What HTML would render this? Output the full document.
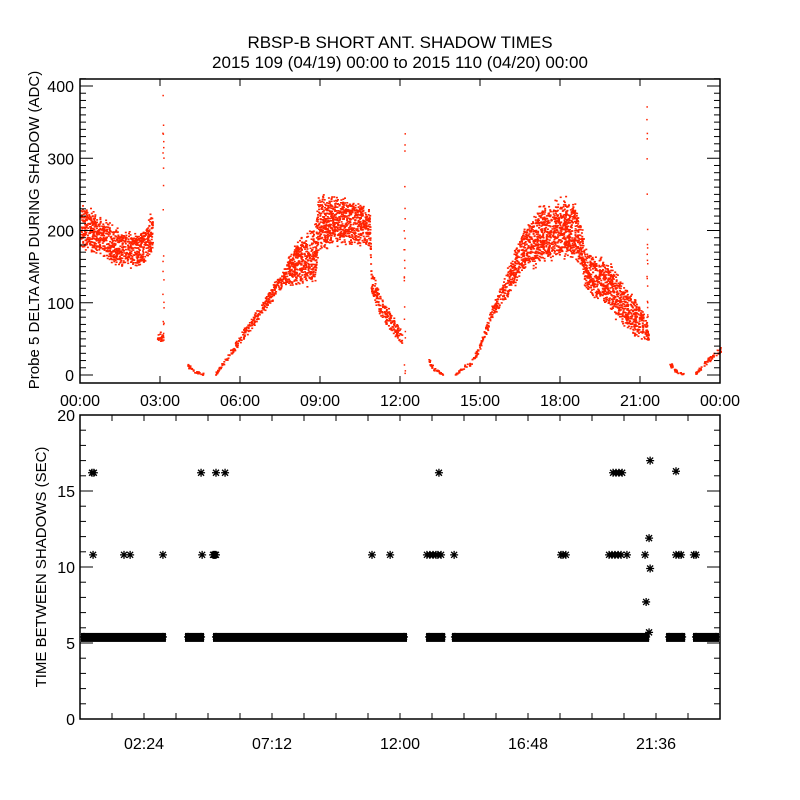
<!DOCTYPE html>
<html><head><meta charset="utf-8">
<style>
body{margin:0;background:#fff;}
svg{display:block;font-family:"Liberation Sans",sans-serif;}
</style></head>
<body>
<svg id="chart" width="800" height="800" viewBox="0 0 800 800">
<rect x="0" y="0" width="800" height="800" fill="#fff"/>
<text x="400" y="48" font-size="17" text-anchor="middle">RBSP-B SHORT ANT. SHADOW TIMES</text>
<text x="400" y="68" font-size="17" text-anchor="middle">2015 109 (04/19) 00:00 to 2015 110 (04/20) 00:00</text>
<g id="topPanel"></g>
<g id="botPanel"></g>
<text transform="translate(39,230) rotate(-90)" font-size="15" text-anchor="middle">Probe 5 DELTA AMP DURING SHADOW (ADC)</text>
<text transform="translate(46,567) rotate(-90)" font-size="15" text-anchor="middle">TIME BETWEEN SHADOWS (SEC)</text>
</svg>
<script>
// ---- data: top panel amplitude envelopes [hour, low, high] ----
const ampSeg1=[[0,170,245],[0.75,160,225],[1.5,145,205],[2.2,145,200],[2.5,155,215],[2.7,165,235]];
const ampSeg2=[[2.88,45,60],[3.1,45,62]];
const ampSeg3=[[4.0,10,18],[4.3,3,8],[4.6,0,4]];
const ampSeg4=[[5.05,0,4],[5.7,28,42],[6.4,62,82],[7.0,92,116],[7.6,120,152],[8.0,120,185],[8.8,120,215],[8.9,165,255],[9.5,175,255],[10.5,175,245],[10.85,170,235],[10.9,110,150],[11.3,75,110],[11.8,50,80],[12.05,40,60]];
const ampSeg5=[[13.05,15,25],[13.3,3,10],[13.6,0,4]];
const ampSeg6=[[14.05,0,3],[14.7,15,25],[15.0,35,50],[15.4,75,95],[16.0,105,150],[16.6,140,210],[17.25,150,240],[17.9,155,250],[18.5,155,250],[18.8,145,215],[18.9,115,180],[19.75,90,165],[20.5,55,125],[21.1,45,95],[21.3,45,65]];
const ampSeg7=[[22.05,15,25],[22.3,3,10],[22.6,0,4]];
const ampSeg8=[[23.05,0,5],[23.5,15,25],[24,30,42]];
const ampSpikes=[[3.1,0,390],[12.15,0,350],[21.25,50,380]];
// ---- data: bottom panel ----
const baseValue=5.4;
const baseSegments=[[0,3.26],[3.9,4.69],[4.95,12.3],[12.94,13.73],[13.91,21.38],[21.94,22.73],[22.95,24]];
const starHours=[0.45,0.52,4.54,5.1,5.44,13.46,19.99,20.1,20.21,20.33,22.35,21.38,0.49,1.65,1.88,3.11,4.58,4.99,5.03,5.06,5.1,10.95,11.63,13.01,13.12,13.24,13.35,13.42,13.54,14.03,18.04,18.11,18.22,19.84,19.95,20.06,20.18,20.29,20.51,21.19,22.35,22.46,22.54,23.02,23.1,21.34,21.38,21.23,21.34];
const starValues=[16.2,16.2,16.2,16.2,16.2,16.2,16.2,16.2,16.2,16.2,16.3,17.0,10.8,10.8,10.8,10.8,10.8,10.8,10.8,10.8,10.8,10.8,10.8,10.8,10.8,10.8,10.8,10.8,10.8,10.8,10.8,10.8,10.8,10.8,10.8,10.8,10.8,10.8,10.8,10.8,10.8,10.8,10.8,10.8,10.8,11.9,9.9,7.7,5.7];
const topTickLabels=["00:00","03:00","06:00","09:00","12:00","15:00","18:00","21:00","00:00"];
const botTickLabels=["02:24","07:12","12:00","16:48","21:36"];
const topYLabels=[0,100,200,300,400];
const botYLabels=[0,5,10,15,20];

const NS="http://www.w3.org/2000/svg";
function mk(p,t,a){const e=document.createElementNS(NS,t);for(const k in a)e.setAttribute(k,a[k]);p.appendChild(e);return e;}
const X0=80,X1=720;
const xh=h=>X0+(X1-X0)*h/24;
const yTop=v=>375-v*0.7225;
const yBot=v=>719-v*15.2;
let seed=12345;
const rnd=()=>{seed=(seed*1103515245+12345)%2147483648;return seed/2147483648;};

const topG=document.getElementById('topPanel');
const botG=document.getElementById('botPanel');
// red points
const pts=mk(topG,'g',{fill:'#ff2200'});


function drawSeg(seg){
  for(let i=0;i<seg.length-1;i++){
    const a=seg[i],b=seg[i+1];
    const n=Math.max(4,Math.round((b[0]-a[0])*26.67*((a[2]-a[1]+b[2]-b[1])/2*0.7225)/3.8)+6);
    for(let k=0;k<n;k++){
      const t=rnd();const h=a[0]+(b[0]-a[0])*t;
      const lo=a[1]+(b[1]-a[1])*t,hi=a[2]+(b[2]-a[2])*t;
      const u=(rnd()*0.7+0.3*(rnd()+rnd())/2);
      const v=lo+(hi-lo)*u;
      mk(pts,'rect',{x:xh(h).toFixed(1),y:yTop(v).toFixed(1),width:2,height:1.6});
    }
  }
}
[ampSeg1,ampSeg2,ampSeg3,ampSeg4,ampSeg5,ampSeg6,ampSeg7,ampSeg8].forEach(drawSeg);
ampSpikes.forEach(s=>{for(let k=0;k<22;k++){const v=s[1]+(s[2]-s[1])*rnd();mk(pts,'rect',{x:xh(s[0]+(rnd()-0.5)*0.05).toFixed(1),y:yTop(v).toFixed(1),width:1.5,height:1.5});}});

// top axes
mk(topG,'rect',{x:80,y:79,width:640,height:304,fill:'none',stroke:'#000','stroke-width':1.5});
for(let v=0;v<=410;v+=10){const y=yTop(v);const L=v%100===0?13:6;
  mk(topG,'line',{x1:80,x2:80+L,y1:y,y2:y,stroke:'#000'});mk(topG,'line',{x1:720,x2:720-L,y1:y,y2:y,stroke:'#000'});}
topYLabels.forEach(v=>{const t=mk(topG,'text',{x:74,y:yTop(v)+6,'font-size':16,'text-anchor':'end'});t.textContent=v;
  
  });
topTickLabels.forEach((s,i)=>{const x=xh(i*3);
  mk(topG,'line',{x1:x,x2:x,y1:383,y2:376,stroke:'#000'});mk(topG,'line',{x1:x,x2:x,y1:79,y2:86,stroke:'#000'});
  const t=mk(topG,'text',{x:x,y:406,'font-size':16,'text-anchor':'middle'});t.textContent=s;
  
  });

// bottom panel
const stars=mk(botG,'g',{stroke:'#000','stroke-width':1.3,fill:'none'});


function star(x,y){mk(stars,'path',{d:`M${x-4} ${y}h8M${x} ${y-4}v8M${x-3} ${y-3}l6 6M${x-3} ${y+3}l6 -6`});}
baseSegments.forEach(s=>{const y=yBot(baseValue);
  const r=mk(botG,'rect',{x:xh(s[0])+1,y:y-4,width:Math.max(1,xh(s[1])-xh(s[0])-2),height:9,fill:'#000'});
  
  
  star(xh(s[0])+4,y);star(xh(s[1])-4,y);});
starHours.forEach((h,i)=>star(xh(h),yBot(starValues[i])));
mk(botG,'rect',{x:80,y:415,width:640,height:304,fill:'none',stroke:'#000','stroke-width':1.5});
for(let v=0;v<=20;v+=1){const y=yBot(v);const L=v%5===0?13:6;
  mk(botG,'line',{x1:80,x2:80+L,y1:y,y2:y,stroke:'#000'});mk(botG,'line',{x1:720,x2:720-L,y1:y,y2:y,stroke:'#000'});}
botYLabels.forEach(v=>{const t=mk(botG,'text',{x:75,y:yBot(v)+6,'font-size':16,'text-anchor':'end'});t.textContent=v;
  
  });
for(let h=1.2;h<24;h+=1.2){const x=xh(h);
  mk(botG,'line',{x1:x,x2:x,y1:719,y2:713,stroke:'#000'});mk(botG,'line',{x1:x,x2:x,y1:415,y2:421,stroke:'#000'});}
botTickLabels.forEach((s,i)=>{const t=mk(botG,'text',{x:xh(2.4+i*4.8),y:749,'font-size':16,'text-anchor':'middle'});t.textContent=s;
  
  });
</script>
</body></html>
